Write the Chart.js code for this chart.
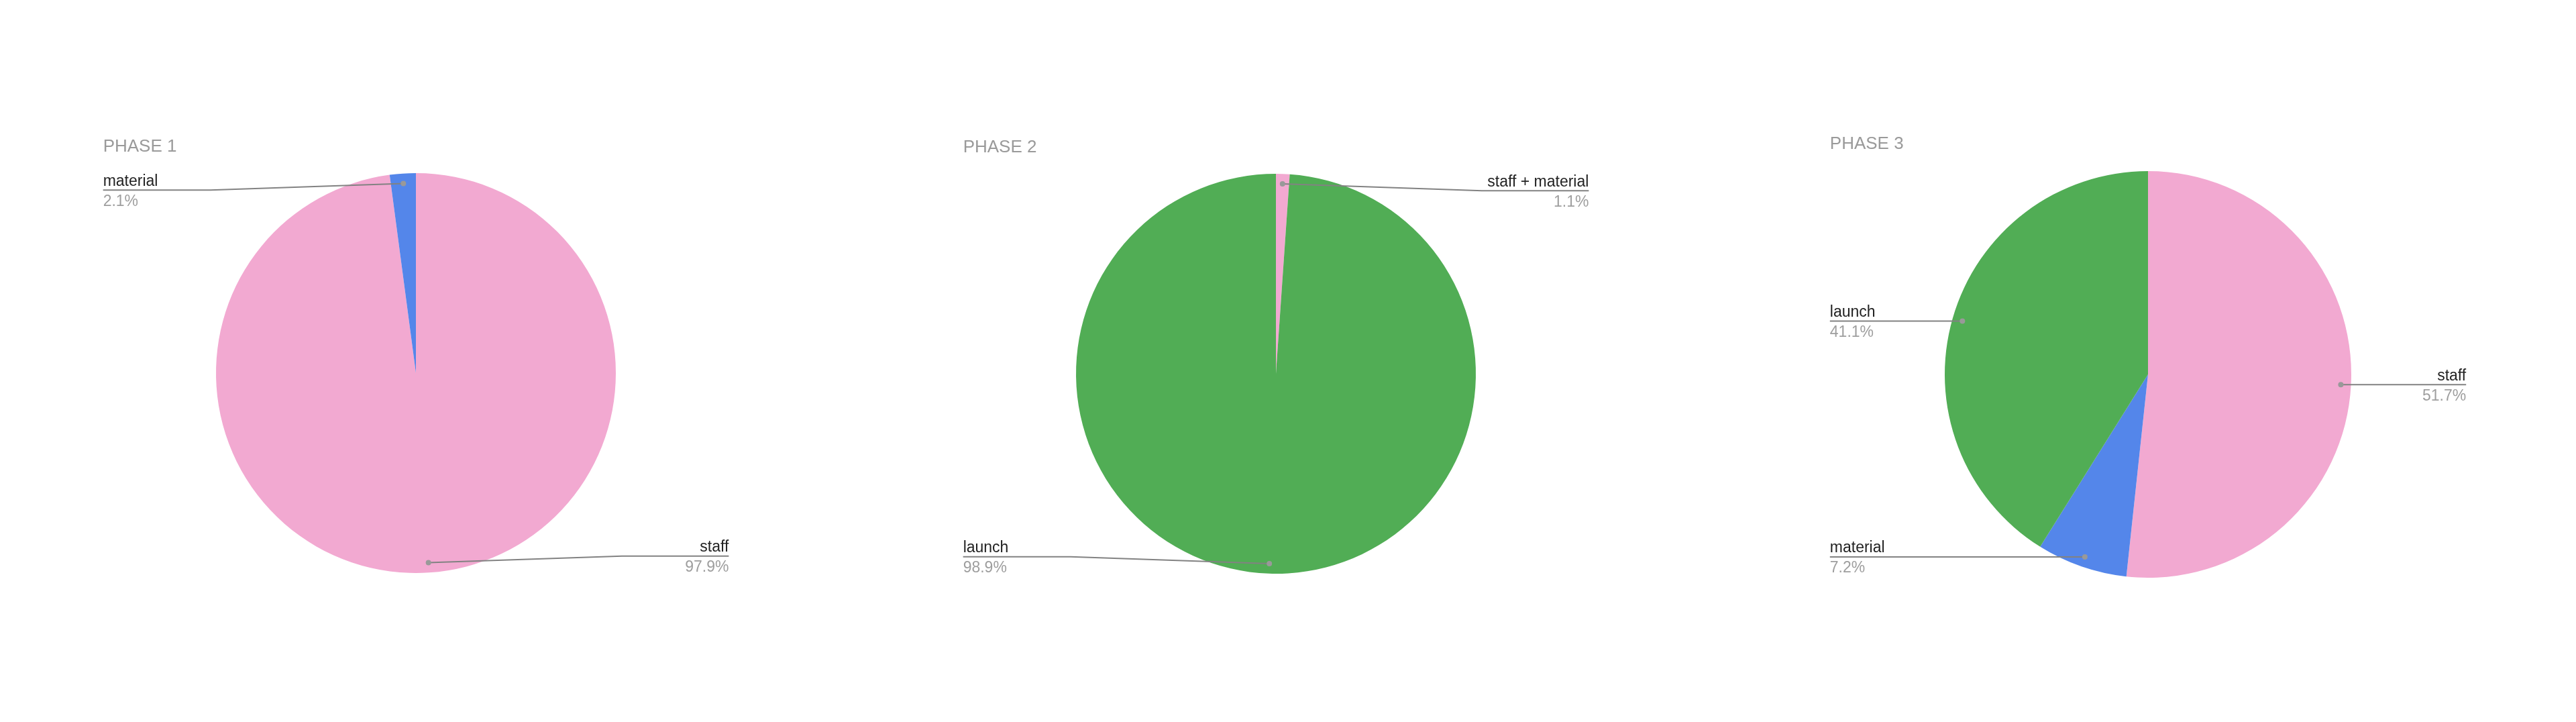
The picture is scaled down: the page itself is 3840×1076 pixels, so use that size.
<!DOCTYPE html>
<html>
<head>
<meta charset="utf-8">
<script src="https://cdn.jsdelivr.net/npm/chart.js@4.4.1/dist/chart.umd.min.js"></script>
<style>
	html, body {
		margin: 0;
		padding: 0;
		background: #ffffff;
	}
	#page {
		position: relative;
		width: 3840px;
		height: 1076px;
		overflow: hidden;
	}
	.panel {
		position: absolute;
		width: 1060px;
		height: 850px;
	}
</style>
</head>
<body>
<div id="page">
	<div class="panel" id="panel1"><canvas id="phase1"></canvas></div>
	<div class="panel" id="panel2"><canvas id="phase2"></canvas></div>
	<div class="panel" id="panel3"><canvas id="phase3"></canvas></div>
</div>
<script>
const phaseTitles = ['PHASE 1', 'PHASE 2', 'PHASE 3']

const phase1Labels = ['staff', 'material']
const phase1Values = [97.9, 2.1]

const phase2Labels = ['staff + material', 'launch']
const phase2Values = [1.1, 98.9]

const phase3Labels = ['staff', 'material', 'launch']
const phase3Values = [51.7, 7.2, 41.1]

const sliceColors = {
	'staff': '#f2a9d1',
	'staff + material': '#f2a9d1',
	'material': '#5486ea',
	'launch': '#51ad55',
}

// where each pie sits on the page (centre and radius)
const placement = [
	{ cx: 620, cy: 556, r: 298 },
	{ cx: 1902, cy: 557, r: 298 },
	{ cx: 3202, cy: 558, r: 303 },
]

const FONT = '"Liberation Sans", Arial, Helvetica, sans-serif'

// draws the title and the callout labels Google-Sheets style
const calloutPlugin = {
	id: 'callouts',
	afterDatasetsDraw(chart, args, opts) {
		const ctx = chart.ctx
		const meta = chart.getDatasetMeta(0)
		const values = chart.data.datasets[0].data
		const total = values.reduce((a, b) => a + b, 0)
		if (!meta.data.length) return
		const first = meta.data[0]
		const cx = first.x
		const cy = first.y
		const R = first.outerRadius
		const leftX = cx - R * 1.565
		const rightX = cx + R * 1.565

		ctx.save()
		ctx.fillStyle = '#9a9a9a'
		ctx.font = '26px ' + FONT
		ctx.textAlign = 'left'
		ctx.textBaseline = 'middle'
		ctx.fillText(opts.title, leftX, cy - R * 1.131)

		meta.data.forEach((arc, i) => {
			const mid = (arc.startAngle + arc.endAngle) / 2
			const dotX = cx + Math.cos(mid) * R * 0.95
			const dotY = cy + Math.sin(mid) * R * 0.95
			const right = Math.cos(mid) >= 0
			const lineY = Math.min(Math.max(dotY, cy - R * 0.915), cy + R * 0.915)
			const endX = right ? rightX : leftX
			const bendX = right ? cx + R + 9 : cx - R - 8

			ctx.strokeStyle = '#828282'
			ctx.lineWidth = 2
			ctx.beginPath()
			ctx.moveTo(endX, lineY)
			ctx.lineTo(bendX, lineY)
			ctx.lineTo(dotX, dotY)
			ctx.stroke()

			ctx.fillStyle = '#999999'
			ctx.beginPath()
			ctx.arc(dotX, dotY, 4, 0, Math.PI * 2)
			ctx.fill()

			ctx.textAlign = right ? 'right' : 'left'
			ctx.font = '23px ' + FONT
			ctx.fillStyle = '#222222'
			ctx.textBaseline = 'middle'
			ctx.fillText(chart.data.labels[i], endX, lineY - 13)
			ctx.fillStyle = '#9e9e9e'
			const pct = (values[i] / total * 100).toFixed(1) + '%'
			ctx.fillText(pct, endX, lineY + 17)
		})
		ctx.restore()
	},
}

function makePie(n, labels, values) {
	const p = placement[n]
	const panel = document.getElementById('panel' + (n + 1))
	panel.style.left = (p.cx - 530) + 'px'
	panel.style.top = (p.cy - 410) + 'px'
	const el = document.getElementById('phase' + (n + 1))
	new Chart(el.getContext('2d'), {
		type: 'pie',
		data: {
			labels: labels,
			datasets: [
				{
					data: values,
					backgroundColor: labels.map(l => sliceColors[l]),
					borderWidth: 0,
					hoverOffset: 0,
					offset: 0,
				},
			],
		},
		options: {
			responsive: true,
			maintainAspectRatio: false,
			animation: false,
			events: [],
			layout: {
				padding: { top: 410 - p.r, bottom: 440 - p.r, left: 530 - p.r, right: 530 - p.r },
			},
			plugins: {
				legend: { display: false },
				tooltip: { enabled: false },
				callouts: { title: phaseTitles[n] },
			},
		},
		plugins: [calloutPlugin],
	})
}

makePie(0, phase1Labels, phase1Values)
makePie(1, phase2Labels, phase2Values)
makePie(2, phase3Labels, phase3Values)
</script>
</body>
</html>
